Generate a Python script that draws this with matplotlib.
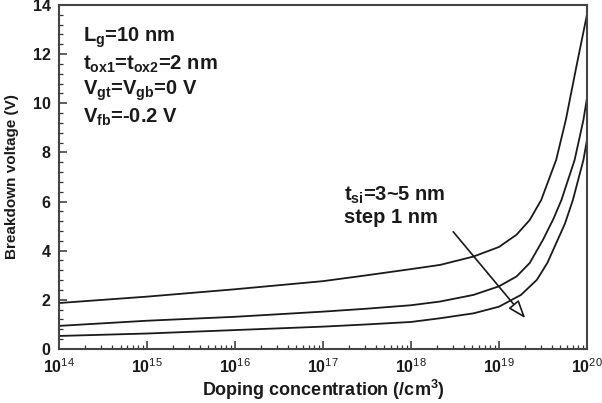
import numpy as np
import matplotlib
matplotlib.use("Agg")
import matplotlib.pyplot as plt
from matplotlib.ticker import FixedLocator, LogLocator, MultipleLocator, NullFormatter

plt.rcParams["font.family"] = ["Liberation Sans", "DejaVu Sans"]
plt.rcParams["mathtext.fontset"] = "custom"
plt.rcParams["mathtext.rm"] = "Liberation Sans"
plt.rcParams["mathtext.bf"] = "Liberation Sans:bold"

# log10 of doping concentration and breakdown voltage, tsi = 3, 4, 5 nm
exp_3nm = [14, 15, 16, 17, 17.5, 18, 18.33, 18.71, 19.0, 19.2, 19.35, 19.48, 19.65, 19.76, 19.88, 20]
vbd_3nm = [1.87, 2.13, 2.43, 2.76, 3.0, 3.25, 3.42, 3.76, 4.15, 4.65, 5.25, 6.06, 7.69, 9.32, 11.49, 13.6]

exp_4nm = [14, 15, 16, 17, 17.5, 18, 18.33, 18.71, 19.0, 19.2, 19.35, 19.5, 19.62, 19.71, 19.86, 19.96, 20]
vbd_4nm = [0.94, 1.15, 1.31, 1.52, 1.64, 1.78, 1.93, 2.2, 2.55, 2.95, 3.5, 4.44, 5.3, 6.06, 7.69, 9.32, 10.2]

exp_5nm = [14, 15, 16, 17, 17.5, 18, 18.33, 18.71, 19.0, 19.25, 19.43, 19.55, 19.65, 19.75, 19.84, 19.96, 20]
vbd_5nm = [0.53, 0.63, 0.77, 0.91, 1.0, 1.1, 1.25, 1.45, 1.72, 2.2, 2.81, 3.5, 4.3, 5.1, 6.06, 7.69, 8.5]

x_decades = [14, 15, 16, 17, 18, 19, 20]
y_ticks = [0, 2, 4, 6, 8, 10, 12, 14]

params_text = [r"L$_{\mathbf{g}}$=10 nm",
               r"t$_{\mathbf{ox1}}$=t$_{\mathbf{ox2}}$=2 nm",
               r"V$_{\mathbf{gt}}$=V$_{\mathbf{gb}}$=0 V",
               r"V$_{\mathbf{fb}}$=-0.2 V"]

fig = plt.figure(figsize=(6.02, 4.03), dpi=100)
ax = fig.add_axes([0.098, 0.134, 0.877, 0.854])

for ex, vb in ((exp_3nm, vbd_3nm), (exp_4nm, vbd_4nm), (exp_5nm, vbd_5nm)):
    ax.plot(10.0 ** np.array(ex), vb, color="#1a1a1a", lw=1.3)

ax.set_xscale("log")
ax.set_xlim(1e14, 1e20)
ax.set_ylim(0, 14)

ax.xaxis.set_major_locator(FixedLocator([10.0 ** d for d in x_decades]))
ax.set_xticklabels([r"$\mathbf{10}^{\mathrm{%d}}$" % d for d in x_decades])
ax.xaxis.set_minor_locator(LogLocator(base=10, subs=np.arange(2, 10), numticks=20))
ax.xaxis.set_minor_formatter(NullFormatter())
ax.set_yticks(y_ticks)
ax.yaxis.set_minor_locator(MultipleLocator(0.4))

ax.tick_params(which="both", direction="in", top=False, right=False, colors="#333333",
               labelcolor="#1a1a1a")
ax.tick_params(which="major", length=6, width=1.1, labelsize=11.5)
ax.tick_params(which="minor", length=3, width=0.9)
ax.tick_params(axis="y", pad=6)
ax.tick_params(axis="x", pad=6)
for lab in ax.get_yticklabels():
    lab.set_fontweight("bold")
for sp in ax.spines.values():
    sp.set_color("#444444")
    sp.set_linewidth(1.5)

ax.set_xlabel(r"Doping concentration (/cm$^{\mathbf{3}}$)", fontsize=13, fontweight="bold",
              color="#1a1a1a", labelpad=1)
ax.set_ylabel("Breakdown voltage (V)", fontsize=11, fontweight="bold",
              color="#1a1a1a", labelpad=10)

for i, s in enumerate(params_text):
    ax.text(10 ** 14.27, 12.66 - 1.08 * i, s, fontsize=14.5, fontweight="bold",
            color="#1a1a1a", va="center", ha="left")

ax.text(10 ** 17.24, 6.27, r"t$_{\mathbf{si}}$=3~5 nm", fontsize=14.5, fontweight="bold",
        color="#1a1a1a", va="center", ha="left")
ax.text(10 ** 17.24, 5.33, "step 1 nm", fontsize=14.5, fontweight="bold",
        color="#1a1a1a", va="center", ha="left")

ax.annotate("", xy=(10 ** 19.30, 1.25), xytext=(10 ** 18.48, 4.77),
            arrowprops=dict(arrowstyle="-|>,head_length=1.1,head_width=0.4",
                            facecolor="white", edgecolor="#1a1a1a", lw=1.2,
                            shrinkA=0, shrinkB=0))

fig.savefig("out.png", dpi=100)
